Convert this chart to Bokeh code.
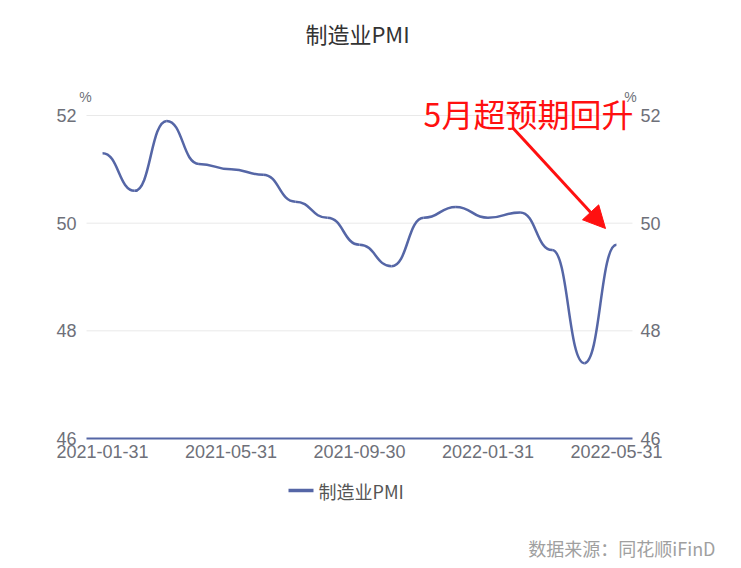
import numpy as np
from bokeh.plotting import figure
from bokeh.models import ColumnDataSource, Arrow, NormalHead, Range1d
from bokeh.core.properties import value
from bokeh.embed import file_html
from bokeh.resources import INLINE

# ---- data ----
dates = ["2021-01-31", "2021-02-28", "2021-03-31", "2021-04-30", "2021-05-31",
         "2021-06-30", "2021-07-31", "2021-08-31", "2021-09-30", "2021-10-31",
         "2021-11-30", "2021-12-31", "2022-01-31", "2022-02-28", "2022-03-31",
         "2022-04-30", "2022-05-31"]
pmi = [51.3, 50.6, 51.9, 51.1, 51.0, 50.9, 50.4, 50.1, 49.6, 49.2,
       50.1, 50.3, 50.1, 50.2, 49.5, 47.4, 49.6]
y_ticks = [46, 48, 50, 52]
x_label_idx = [0, 4, 8, 12, 16]
title_text = "制造业PMI"
series_name = "制造业PMI"
note_text = "5月超预期回升"
source_text = "数据来源：同花顺iFinD"

LINE_COLOR = "#5566a6"
TICK_COLOR = "#6e7079"
RED = "#ff1010"
CJK = "Noto Sans CJK SC"
LAT = "Liberation Sans"

W, H = 741, 568
# plot area (pixels)
L, R, T, B = 86, 632, 115, 438
n = len(pmi)
XS = (R - L) / n
YS = (B - T) / (y_ticks[-1] - y_ticks[0])


def px2x(px):
    return (px - L) / XS - 0.5


def py2y(py):
    return y_ticks[-1] - (py - T) / YS


# ---- smooth curve: horizontal tangents at each point (x-monotone smoothing) ----
xs = np.arange(n, dtype=float)
ys = np.array(pmi, dtype=float)
k = 0.5
bz = ColumnDataSource(dict(
    x0=xs[:-1], y0=ys[:-1], x1=xs[1:], y1=ys[1:],
    cx0=xs[:-1] + k, cy0=ys[:-1], cx1=xs[1:] - k, cy1=ys[1:]))

p = figure(width=W, height=H, output_backend="svg", toolbar_location=None,
           x_range=Range1d(px2x(0), px2x(W)), y_range=Range1d(py2y(H), py2y(0)),
           min_border=0, x_axis_type=None, y_axis_type=None)
p.outline_line_color = None
p.grid.visible = False
p.background_fill_color = "white"
p.border_fill_color = "white"

x_lo, x_hi = -0.5, n - 0.5

# grid lines
gy = y_ticks[1:]
p.segment(x0=[x_lo] * len(gy), y0=gy, x1=[x_hi] * len(gy), y1=gy,
          line_color="#e9e9e9", line_width=1)
# x axis line
p.segment(x0=[x_lo], y0=[y_ticks[0]], x1=[x_hi], y1=[y_ticks[0]],
          line_color=LINE_COLOR, line_width=2)

# y tick labels (left & right)
ylab = [str(t) for t in y_ticks]
p.text(x=[px2x(L - 10)] * len(y_ticks), y=y_ticks, text=ylab, text_align="right",
       text_baseline="middle", text_font=value(LAT), text_font_size="18px",
       text_color=TICK_COLOR)
p.text(x=[px2x(R + 8)] * len(y_ticks), y=y_ticks, text=ylab, text_align="left",
       text_baseline="middle", text_font=value(LAT), text_font_size="18px",
       text_color=TICK_COLOR)
# x tick labels
p.text(x=x_label_idx, y=[py2y(B + 6)] * len(x_label_idx),
       text=[dates[i] for i in x_label_idx], text_align="center",
       text_baseline="top", text_font=value(LAT), text_font_size="18px",
       text_color=TICK_COLOR)
# "%" units
p.text(x=[px2x(85), px2x(630)], y=[py2y(96)] * 2, text=["%", "%"],
       text_align="center", text_baseline="middle", text_font=value(LAT),
       text_font_size="14px", text_color=TICK_COLOR)

# series
p.bezier(x0="x0", y0="y0", x1="x1", y1="y1", cx0="cx0", cy0="cy0",
         cx1="cx1", cy1="cy1", source=bz, line_color=LINE_COLOR, line_width=2.5)

# title
p.text(x=[px2x(357)], y=[py2y(32)], text=[title_text], text_align="center",
       text_baseline="middle", text_font=value(CJK), text_font_size="22px",
       text_color="#333333")

# annotation
p.text(x=[px2x(528)], y=[py2y(112)], text=[note_text], text_align="center",
       text_baseline="middle", text_font=value(CJK), text_font_size="32px",
       text_color=RED)
p.add_layout(Arrow(x_start=px2x(512), y_start=py2y(127), x_end=px2x(605), y_end=py2y(228),
                   line_color=RED, line_width=3,
                   end=NormalHead(size=22, fill_color=RED, line_color=RED)))

# legend
p.segment(x0=[px2x(288)], y0=[py2y(490)], x1=[px2x(313)], y1=[py2y(490)],
          line_color=LINE_COLOR, line_width=3.5)
p.text(x=[px2x(318)], y=[py2y(490)], text=[series_name], text_align="left",
       text_baseline="middle", text_font=value(CJK), text_font_size="18px",
       text_color="#555555")

# source
p.text(x=[px2x(715)], y=[py2y(547)], text=[source_text], text_align="right",
       text_baseline="middle", text_font=value(CJK), text_font_size="18px",
       text_color="#a0a0a0")

open("out.html", "w").write(file_html(p, INLINE))
